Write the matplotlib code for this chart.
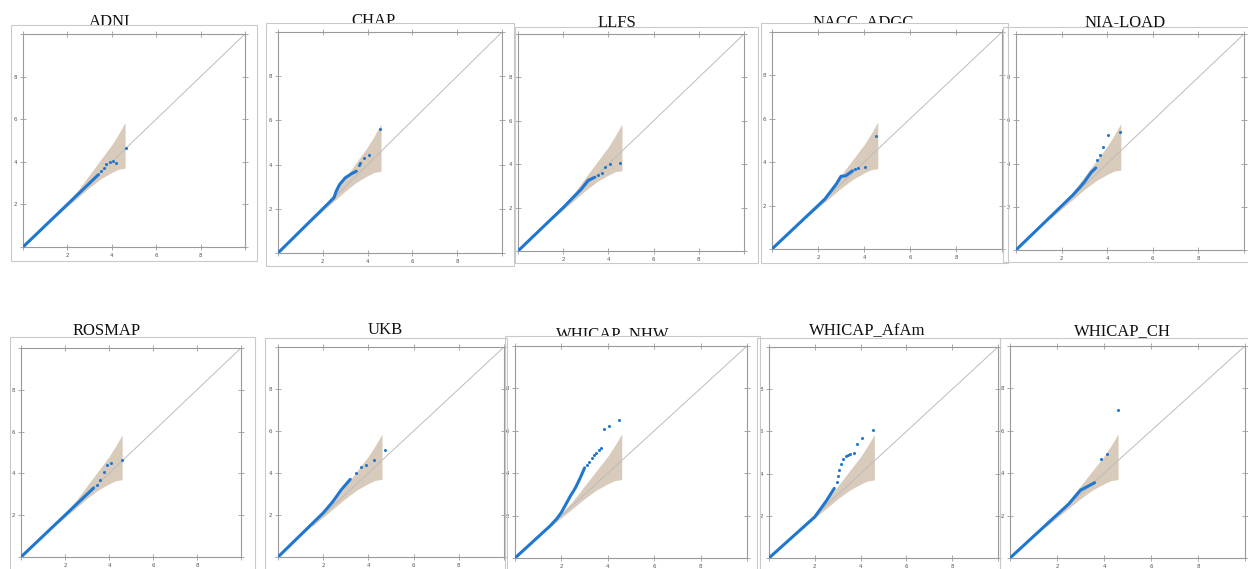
import matplotlib
matplotlib.use("Agg")
import matplotlib.pyplot as plt
from matplotlib.patches import Rectangle
from matplotlib.transforms import Bbox, TransformedBbox

names = ["ADNI", "CHAP", "LLFS", "NACC_ADGC", "NIA-LOAD",
         "ROSMAP", "UKB", "WHICAP_NHW", "WHICAP_AfAm", "WHICAP_CH"]

# 95% band around the diagonal (same for every cohort)
band_x = [1.5, 2.0, 2.5, 3.0, 3.5, 4.0, 4.3, 4.6]
band_lo = [1.45, 1.9, 2.35, 2.8, 3.2, 3.5, 3.65, 3.7]
band_hi = [1.55, 2.1, 2.7, 3.4, 4.1, 4.8, 5.3, 5.85]

# dense body of points (drawn as a thick line) and the sparse tail
adni_x, adni_y = [0, 2.0, 3.0, 3.4], [0, 2.0, 3.0, 3.4]
adni_tx = [3.5, 3.65, 3.75, 3.9, 4.05, 4.2, 4.65]
adni_ty = [3.55, 3.7, 3.9, 4.0, 4.05, 3.95, 4.63]

chap_x, chap_y = [0, 2.5, 2.6, 2.75, 3.0, 3.3, 3.5], [0, 2.5, 2.8, 3.1, 3.4, 3.6, 3.7]
chap_tx = [3.6, 3.65, 3.85, 4.05, 4.55]
chap_ty = [4.0, 4.05, 4.3, 4.45, 5.62]

llfs_x, llfs_y = [0, 2.0, 2.8, 3.1, 3.4], [0, 2.0, 2.85, 3.25, 3.4]
llfs_tx = [3.55, 3.7, 3.85, 4.05, 4.5]
llfs_ty = [3.5, 3.6, 3.88, 4.0, 4.06]

nacc_x, nacc_y = [0, 2.3, 2.8, 3.0, 3.2, 3.5], [0, 2.3, 3.0, 3.35, 3.37, 3.6]
nacc_tx = [3.6, 3.75, 4.05, 4.54]
nacc_ty = [3.7, 3.75, 3.8, 5.2]

nia_x, nia_y = [0, 2.5, 2.8, 3.0, 3.3, 3.5], [0, 2.55, 2.9, 3.15, 3.6, 3.8]
nia_tx = [3.57, 3.68, 3.83, 4.05, 4.56]
nia_ty = [4.17, 4.4, 4.79, 5.33, 5.44]

rosmap_x, rosmap_y = [0, 3.0, 3.3], [0, 3.0, 3.3]
rosmap_tx = [3.44, 3.6, 3.75, 3.9, 4.1, 4.58]
rosmap_ty = [3.46, 3.7, 4.05, 4.39, 4.5, 4.66]

ukb_x, ukb_y = [0, 2.0, 2.4, 2.8, 3.2], [0, 2.1, 2.6, 3.2, 3.7]
ukb_tx = [3.47, 3.69, 3.91, 4.24, 4.73]
ukb_ty = [3.98, 4.3, 4.38, 4.62, 5.1]

nhw_x = [0, 1.5, 1.8, 2.0, 2.2, 2.4, 2.6, 2.8, 3.0]
nhw_y = [0, 1.5, 1.85, 2.15, 2.55, 2.95, 3.3, 3.75, 4.25]
nhw_tx = [3.1, 3.2, 3.3, 3.4, 3.5, 3.6, 3.7, 3.85, 4.05, 4.5]
nhw_ty = [4.4, 4.55, 4.7, 4.85, 4.95, 5.1, 5.2, 6.08, 6.22, 6.5]

afam_x, afam_y = [0, 2.0, 2.5, 2.85], [0, 1.95, 2.7, 3.3]
afam_tx = [2.95, 3.0, 3.05, 3.15, 3.25, 3.35, 3.45, 3.55, 3.7, 3.85, 4.05, 4.55]
afam_ty = [3.6, 3.9, 4.15, 4.45, 4.7, 4.85, 4.9, 4.95, 5.0, 5.4, 5.7, 6.05]

ch_x, ch_y = [0, 2.5, 3.0, 3.6], [0, 2.55, 3.2, 3.55]
ch_tx = [3.87, 4.11, 4.58]
ch_ty = [4.67, 4.9, 7.0]

lines_x = [adni_x, chap_x, llfs_x, nacc_x, nia_x, rosmap_x, ukb_x, nhw_x, afam_x, ch_x]
lines_y = [adni_y, chap_y, llfs_y, nacc_y, nia_y, rosmap_y, ukb_y, nhw_y, afam_y, ch_y]
tails_x = [adni_tx, chap_tx, llfs_tx, nacc_tx, nia_tx, rosmap_tx, ukb_tx, nhw_tx, afam_tx, ch_tx]
tails_y = [adni_ty, chap_ty, llfs_ty, nacc_ty, nia_ty, rosmap_ty, ukb_ty, nhw_ty, afam_ty, ch_ty]

ticks = [0, 2, 4, 6, 8, 10]
tick_labels = ["", "2", "4", "6", "8", ""]

# ---- layout in pixels of the 1248x569 canvas ----
W, H = 1248, 569
axes_px = [(23, 34, 245, 247), (278, 32, 502, 253), (518, 34, 744, 251),
           (772, 32, 1002, 249), (1016, 34, 1244, 250),
           (21, 348, 241, 557), (278, 347, 504, 557), (515, 346, 747, 558),
           (769, 347, 998, 558), (1010, 346, 1245, 558)]
frames_px = [(11, 25, 257, 261), (266, 23, 514, 266), (515, 27, 758, 263),
             (761, 23, 1008, 263), (1003, 27, 1250, 262),
             (10, 337, 255, 580), (265, 338, 507, 580), (505, 336, 760, 580),
             (757, 338, 1000, 580), (1000, 338, 1250, 580)]
titles_px = [(110, 25.5), (373, 25), (617, 26.7), (863, 26), (1125, 26.7),
             (107, 335), (385, 334), (613, 338.5), (867, 335.5), (1122, 335)]

BLUE = "#1f77d0"
BAND = "#d9cbbb"
DIAG = "#bcbcbc"
SPINE = "#9a9a9a"

fig = plt.figure(figsize=(W / 100, H / 100), dpi=100)

for i, name in enumerate(names):
    x0, y0, x1, y1 = frames_px[i]
    fig.add_artist(Rectangle((x0 / W, 1 - y1 / H), (x1 - x0) / W, (y1 - y0) / H,
                             transform=fig.transFigure, fill=False,
                             ec="#c9c9c9", lw=0.8))

    l, t, r, b = axes_px[i]
    ax = fig.add_axes([l / W, 1 - b / H, (r - l) / W, (b - t) / H])
    ax.fill_between(band_x, band_lo, band_hi, color=BAND, lw=0, zorder=1)
    ax.plot([ticks[0], ticks[-1]], [ticks[0], ticks[-1]], color=DIAG, lw=0.7, zorder=2)
    ax.plot(lines_x[i], lines_y[i], color=BLUE, lw=2.2,
            solid_capstyle="round", solid_joinstyle="round", zorder=3)
    ax.plot(tails_x[i], tails_y[i], "o", ms=2.2, color=BLUE, mec="none", zorder=3)

    ax.set_xlim(ticks[0], ticks[-1])
    ax.set_ylim(ticks[0], ticks[-1])
    ax.set_xticks(ticks)
    ax.set_yticks(ticks)
    ax.set_xticklabels(tick_labels)
    ax.set_yticklabels(tick_labels)
    ax.tick_params(which="both", direction="inout", length=4, width=0.6,
                   colors=SPINE, labelcolor="#555555", labelsize=4,
                   top=True, right=True, pad=2)
    for s in ax.spines.values():
        s.set_color(SPINE)
        s.set_linewidth(0.8)

    tx, ty = titles_px[i]
    txt = fig.text(tx / W, 1 - ty / H, name, ha="center", va="baseline",
                   fontsize=12, family="Liberation Serif", color="#111111")
    clip = TransformedBbox(Bbox.from_extents(0, 1 - y0 / H, 1, 1), fig.transFigure)
    txt.set_clip_box(clip)
    txt.set_clip_on(True)

fig.savefig("out.png", dpi=100, facecolor="white")
